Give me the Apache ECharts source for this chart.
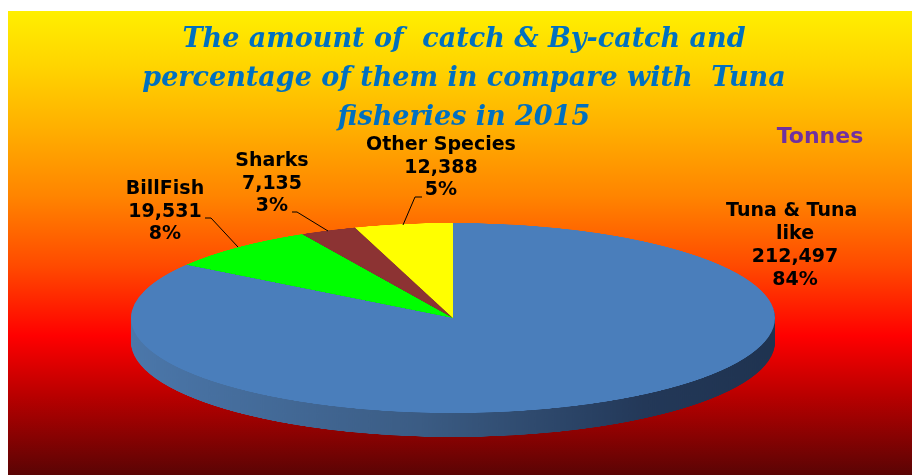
<!DOCTYPE html>
<html><head><meta charset="utf-8">
<script src="https://cdn.jsdelivr.net/npm/echarts@6/dist/echarts.min.js"></script>
<style>
html,body{margin:0;padding:0;background:#fff;width:912px;height:475px;overflow:hidden;}
#bg{position:absolute;left:8px;top:11px;width:904px;height:464px;
background:linear-gradient(to bottom,#ffef00 0%,#ffd400 12%,#ffb000 25%,#ff8400 40%,#ff4a00 55%,#ff0000 70%,#b80000 83%,#5a0404 100%);}
#pie{position:absolute;left:0;top:0;width:912px;transform-origin:0 0;}
#txt{position:absolute;left:0;top:0;width:912px;height:475px;}
</style></head><body>
<div id="bg"></div><div id="pie"></div><div id="txt"></div>
<script>
// ---- data ----
const categories = ['Tuna & Tuna like', 'BillFish', 'Sharks', 'Other Species'];
const tonnes = [212497, 19531, 7135, 12388];
const unitLabel = 'Tonnes';
const titleLines = [
  'The amount of  catch & By-catch and',
  'percentage of them in compare with  Tuna',
  'fisheries in 2015'
];

// ---- style ----
const topColors = ['#4a7ebb', '#00ff00', '#8c3333', '#ffff00'];
const sideOther = ['#1f3350', '#009000', '#552020', '#9a9a00'];
const CX = 453, CY = 318, RX = 322, RY = 95, DEPTH = 24;
const K = RY / RX;

const pieDiv = document.getElementById('pie');
pieDiv.style.height = Math.ceil(475 / K) + 'px';
pieDiv.style.transform = 'scaleY(' + K + ')';

const sideGrad = {type: 'linear', x: 0, y: 0, x2: 1, y2: 0, colorStops: [
  {offset: 0, color: '#4b77aa'}, {offset: 0.45, color: '#3b5c84'},
  {offset: 0.8, color: '#233858'}, {offset: 1, color: '#1f3350'}]};

const pieSeries = [];
for (let d = DEPTH; d >= 1; d--) {
  pieSeries.push({
    type: 'pie', silent: true, animation: false, z: 1,
    center: [CX, (CY + d) / K], radius: RX, startAngle: 90, clockwise: true,
    label: {show: false}, labelLine: {show: false},
    data: categories.map((c, i) => ({name: c, value: tonnes[i],
      itemStyle: {color: i === 0 ? sideGrad : sideOther[i], borderWidth: 0}}))
  });
}
pieSeries.push({
  type: 'pie', silent: true, animation: false, z: 2,
  center: [CX, CY / K], radius: RX, startAngle: 90, clockwise: true,
  label: {show: false}, labelLine: {show: false},
  data: categories.map((c, i) => ({name: c, value: tonnes[i],
    itemStyle: {color: topColors[i], borderWidth: 0}}))
});

const pieChart = echarts.init(pieDiv, null, {renderer: 'canvas'});
pieChart.setOption({animation: false, backgroundColor: 'transparent', series: pieSeries});

// ---- labels ----
const total = tonnes.reduce((a, b) => a + b, 0);
const labelLayout = [
  {x: 795, y: 246, w: 150, line: null},
  {x: 165, y: 212, w: 150, line: [[205, 218], [211, 218], [238, 247]]},
  {x: 272, y: 184, w: 150, line: [[292, 212], [297, 212], [328, 231]]},
  {x: 441, y: 168, w: 170, line: [[422, 197], [415, 197], [403, 225]]}
];
const fontLbl = '"DejaVu Sans", Verdana, sans-serif';
const graphics = [];
categories.forEach((c, i) => {
  const L = labelLayout[i];
  const txt = c + '\n' + tonnes[i].toLocaleString('en-US') + '\n' + Math.round(tonnes[i] / total * 100) + '%';
  graphics.push({type: 'text', x: L.x, y: L.y, silent: true, style: {
    text: txt, width: L.w, overflow: 'break', align: 'center', verticalAlign: 'middle',
    fontFamily: fontLbl, fontWeight: 'bold', fontSize: 19, lineHeight: i === 0 ? 23 : 22.5, fill: '#000'}});
  if (L.line) graphics.push({type: 'polyline', silent: true, shape: {points: L.line},
    style: {stroke: '#000', lineWidth: 1, fill: null}});
});
graphics.push({type: 'text', x: 820, y: 137, silent: true, style: {
  text: unitLabel, align: 'center', verticalAlign: 'middle', fontFamily: fontLbl,
  fontWeight: 'bold', fontSize: 22, fill: '#7030a0'}});

const txtChart = echarts.init(document.getElementById('txt'));
txtChart.setOption({
  animation: false, backgroundColor: 'transparent',
  title: {
    text: titleLines.join('\n'), left: 459, top: 15, textAlign: 'center',
    textStyle: {fontFamily: '"DejaVu Serif", serif', fontStyle: 'italic', fontWeight: 'bold',
      fontSize: 27, lineHeight: 39, color: '#0070c0'}
  },
  graphic: graphics
});
</script>
</body></html>
